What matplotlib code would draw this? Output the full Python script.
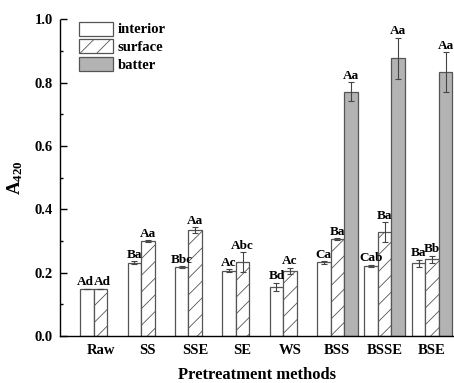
import numpy as np
import matplotlib
matplotlib.use("Agg")
import matplotlib.pyplot as plt
from matplotlib.ticker import MultipleLocator

plt.rcParams['font.family'] = ['Liberation Serif', 'DejaVu Serif']
plt.rcParams['font.weight'] = 'bold'
plt.rcParams['mathtext.fontset'] = 'custom'
plt.rcParams['mathtext.rm'] = 'Liberation Serif:bold'
plt.rcParams['mathtext.it'] = 'Liberation Serif:bold'
plt.rcParams['hatch.linewidth'] = 0.6
plt.rcParams['hatch.color'] = '#666666'

methods = ["Raw", "SS", "SSE", "SE", "WS", "BSS", "BSSE", "BSE"]

interior = [0.150, 0.232, 0.217, 0.206, 0.156, 0.233, 0.222, 0.230]
interior_err = [0.0, 0.004, 0.003, 0.005, 0.013, 0.004, 0.003, 0.011]
interior_lab = ["Ad", "Ba", "Bbc", "Ac", "Bd", "Ca", "Cab", "Ba"]

surface = [0.150, 0.300, 0.335, 0.233, 0.206, 0.306, 0.328, 0.242]
surface_err = [0.0, 0.003, 0.008, 0.032, 0.009, 0.003, 0.032, 0.012]
surface_lab = ["Ad", "Aa", "Aa", "Abc", "Ac", "Ba", "Ba", "Bb"]

# batter only for the B* pretreatments
batter_idx = [5, 6, 7]
batter = [0.772, 0.877, 0.833]
batter_err = [0.030, 0.065, 0.063]
batter_lab = ["Aa", "Aa", "Aa"]

fig = plt.figure(figsize=(4.54, 3.83), dpi=100)
ax = fig.add_axes([60/454, 47/383, 394/454, 316.5/383])

x = np.arange(len(methods))
w = 0.285
edge = '#555555'
ekw = dict(ecolor='#444444', elinewidth=0.8, capsize=2.5, capthick=0.8)

ax.bar(x - w, interior, w, color='white', edgecolor=edge, linewidth=0.9,
       yerr=interior_err, error_kw=ekw, label='interior')
ax.bar(x, surface, w, color='white', edgecolor=edge, linewidth=0.9, hatch='//',
       yerr=surface_err, error_kw=ekw, label='surface')
bx = np.array(batter_idx) + w
ax.bar(bx, batter, w, color='#b3b3b3', edgecolor=edge, linewidth=0.9,
       yerr=batter_err, error_kw=ekw, label='batter')

def put_labels(xs, vals, errs, labs, dx=None):
    for i, (xi, v, e, t) in enumerate(zip(xs, vals, errs, labs)):
        off = dx[i] if dx else 0
        ax.annotate(t, (xi, v + e), xytext=(off, 2.5), textcoords='offset points',
                    ha='center', va='baseline', fontsize=9.5, fontweight='bold')

# Raw labels sit side by side, push them apart a touch
shift_in = [-1.2] + [0] * 7
shift_su = [1.2] + [0] * 7
put_labels(x - w, interior, interior_err, interior_lab, shift_in)
put_labels(x, surface, surface_err, surface_lab, shift_su)
put_labels(bx, batter, batter_err, batter_lab)

ax.set_xlim(-0.855, 7.464)
ax.set_ylim(0, 1.0)
ax.set_xticks(x)
ax.set_xticklabels(methods, fontsize=10.5, fontweight='bold')
ax.tick_params(axis='x', length=0, pad=6)
ax.yaxis.set_major_locator(MultipleLocator(0.2))
ax.yaxis.set_minor_locator(MultipleLocator(0.1))
ax.tick_params(axis='y', which='major', direction='in', length=5, width=1, pad=5, labelsize=10.5)
ax.tick_params(axis='y', which='minor', direction='in', length=2.5, width=1)
ax.yaxis.set_major_formatter(matplotlib.ticker.FormatStrFormatter('%.1f'))
for lab in ax.get_yticklabels():
    lab.set_fontweight('bold')

ax.spines['top'].set_visible(False)
ax.spines['right'].set_visible(False)
ax.spines['left'].set_linewidth(1.0)
ax.spines['bottom'].set_linewidth(1.0)

ax.set_ylabel(r'A$_{\mathrm{420}}$', fontsize=13.5, fontweight='bold', labelpad=7)
ax.set_xlabel('Pretreatment methods', fontsize=12, fontweight='bold', labelpad=7)

ax.legend(loc='upper left', bbox_to_anchor=(19/394, 1 - 2/316.5), frameon=False,
          borderaxespad=0, borderpad=0, handlelength=2.3, handleheight=1.1,
          labelspacing=0.2, handletextpad=0.35, prop={'size': 10.5, 'weight': 'bold'})

fig.savefig('out.png', dpi=100)
